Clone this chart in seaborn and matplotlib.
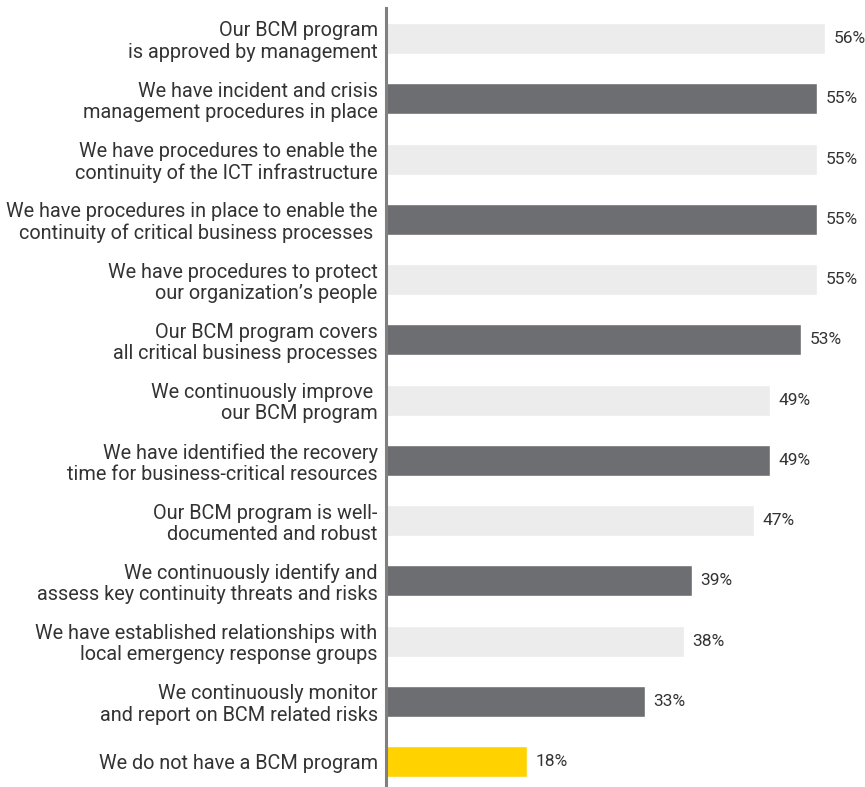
import matplotlib
matplotlib.use("Agg")
import matplotlib.pyplot as plt
import seaborn as sns
import pandas as pd

categories = [
    "Our BCM program\nis approved by management",
    "We have incident and crisis\nmanagement procedures in place",
    "We have procedures to enable the\ncontinuity of the ICT infrastructure",
    "We have procedures in place to enable the\ncontinuity of critical business processes ",
    "We have procedures to protect\nour organization\u2019s people",
    "Our BCM program covers\nall critical business processes",
    "We continuously improve \nour BCM program",
    "We have identified the recovery\ntime for business-critical resources",
    "Our BCM program is well-\ndocumented and robust",
    "We continuously identify and\nassess key continuity threats and risks",
    "We have established relationships with\nlocal emergency response groups",
    "We continuously monitor\nand report on BCM related risks",
    "We do not have a BCM program",
]
values = [56, 55, 55, 55, 55, 53, 49, 49, 47, 39, 38, 33, 18]
value_labels = ["56%", "55%", "55%", "55%", "55%", "53%", "49%", "49%", "47%", "39%", "38%", "33%", "18%"]

light = "#ececec"
dark = "#6d6e71"
yellow = "#ffd200"
bar_colors = [light if i % 2 == 0 else dark for i in range(len(categories) - 1)] + [yellow]

df = pd.DataFrame({"category": categories, "value": values})

sns.set_style("white")
plt.rcParams["font.family"] = ["Roboto", "DejaVu Sans"]

fig = plt.figure(figsize=(8.65, 7.87), dpi=100)
ax = fig.add_axes([386 / 865, 0.0, 1 - 386 / 865, 779 / 787])

sns.barplot(data=df, x="value", y="category", hue="category",
            palette=bar_colors, legend=False, width=0.515,
            saturation=1, ax=ax, orient="h")

for i, (v, lab) in enumerate(zip(values, value_labels)):
    ax.annotate(lab, (v, i), xytext=(6, 0), textcoords="offset points",
                ha="left", va="center", fontsize=12.5, color="#333333")

ax.set_xlim(0, 61.1)
ax.set_ylim(12.42, -0.506)
ax.set_xlabel("")
ax.set_ylabel("")
ax.set_xticks([])
ax.tick_params(axis="y", length=0, pad=6, labelsize=14.3, colors="#333333")
for t in ax.get_yticklabels():
    t.set_linespacing(1.15)
    t.set_color("#333333")

for s in ["top", "right", "bottom"]:
    ax.spines[s].set_visible(False)
ax.spines["left"].set_color("#808080")
ax.spines["left"].set_linewidth(2.2)

fig.savefig("out.png", dpi=100)
